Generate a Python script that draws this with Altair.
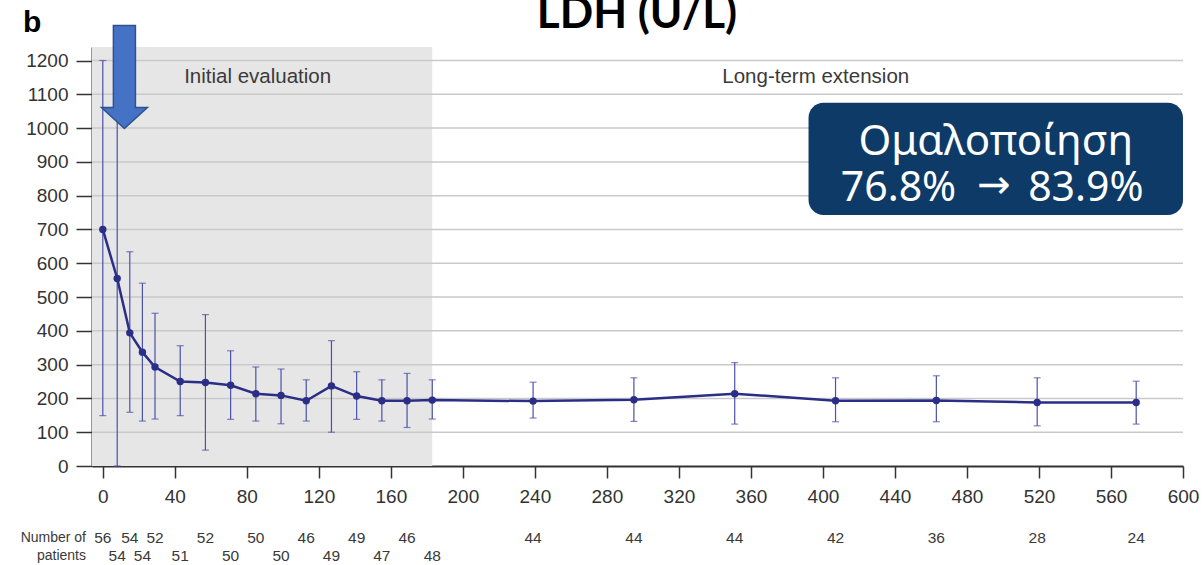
import altair as alt
import pandas as pd

# Visit days and LDH (U/L) summary values
days = [0, 8, 15, 22, 29, 43, 57, 71, 85, 99, 113, 127, 141, 155, 169, 183,
        239, 295, 351, 407, 463, 519, 574]
ldh_mean = [700, 555, 394, 337, 293, 250, 247, 239, 214, 209, 193, 237, 207,
            193, 193, 195, 192, 196, 214, 193, 194, 188, 188]
ldh_low = [149, 0, 159, 133, 139, 149, 47, 138, 133, 125, 133, 100, 138, 133,
           114, 139, 142, 132, 124, 131, 131, 119, 124]
ldh_high = [1200, 1100, 634, 541, 452, 356, 448, 341, 293, 287, 255, 371, 279,
            255, 274, 255, 248, 261, 306, 261, 267, 261, 251]

# Number of patients, printed in two staggered rows under the axis
n_top_days = [0, 15, 29, 57, 85, 113, 141, 169, 239, 295, 351, 407, 463, 519, 574]
n_top = [56, 54, 52, 52, 50, 46, 49, 46, 44, 44, 44, 42, 36, 28, 24]
n_bottom_days = [8, 22, 43, 71, 99, 127, 155, 183]
n_bottom = [54, 54, 51, 50, 50, 49, 47, 48]

x_ticks = list(range(0, 601, 40))
y_ticks = list(range(0, 1201, 100))
grid_values = list(range(100, 1201, 100))

X_DOMAIN = [-6, 600]
Y_DOMAIN = [0, 1240]
INITIAL_END = 183

NAVY = "#2B2E86"
BAR = "#4C51A8"
TEXT = "#333333"

df = pd.DataFrame({"day": days, "mean": ldh_mean, "low": ldh_low, "high": ldh_high})

xs = alt.Scale(domain=X_DOMAIN, nice=False, zero=False)
ys = alt.Scale(domain=Y_DOMAIN, nice=False)

x_axis = alt.Axis(values=x_ticks, format="d", title=None, grid=False, labelFontSize=19,
                  labelFont="Liberation Sans", labelColor=TEXT, tickSize=12,
                  tickWidth=1.5, tickColor=TEXT, domainColor=TEXT, domainWidth=2,
                  labelPadding=9, labelOverlap=False, labelFlush=False)
y_axis = alt.Axis(values=y_ticks, format="d", title=None, grid=False, labelFontSize=19,
                  labelFont="Liberation Sans", labelColor=TEXT, tickSize=16,
                  tickWidth=1.5, tickColor=TEXT, domainColor=TEXT, domainWidth=2,
                  labelPadding=8, labelOverlap=False, labelFlush=False)


def X(field):
    return alt.X(field, scale=xs, axis=x_axis)


def Y(field):
    return alt.Y(field, scale=ys, axis=y_axis)


# Shaded "initial evaluation" period
shade = alt.Chart(pd.DataFrame({"x0": [X_DOMAIN[0]], "x1": [INITIAL_END],
                                "y0": [Y_DOMAIN[0]], "y1": [Y_DOMAIN[1]]})).mark_rect(
    color="#E6E6E6").encode(x=X("x0:Q"), x2="x1:Q", y=Y("y0:Q"), y2="y1:Q")

grid = alt.Chart(pd.DataFrame({"g": grid_values})).mark_rule(
    color="#C9C9C9", strokeWidth=1.5).encode(y=Y("g:Q"))

# Phase labels
phases = pd.DataFrame({"day": [86, 396], "v": [1134, 1134],
                       "label": ["Initial evaluation", "Long-term extension"]})
phase_text = alt.Chart(phases).mark_text(
    font="Liberation Sans", fontSize=20.5, color="#3A3A3A", baseline="alphabetic").encode(
    x=X("day:Q"), y=Y("v:Q"), text="label:N")

# Error bars with caps
bars = alt.Chart(df).mark_rule(color=BAR, strokeWidth=1.2).encode(
    x=X("day:Q"), y=Y("low:Q"), y2="high:Q")
cap_low = alt.Chart(df).mark_tick(color=BAR, orient="horizontal", size=7, thickness=1.2).encode(
    x=X("day:Q"), y=Y("low:Q"))
cap_high = alt.Chart(df).mark_tick(color=BAR, orient="horizontal", size=7, thickness=1.2).encode(
    x=X("day:Q"), y=Y("high:Q"))

line = alt.Chart(df).mark_line(color=NAVY, strokeWidth=2.5).encode(
    x=X("day:Q"), y=Y("mean:Q"))
points = alt.Chart(df).mark_point(filled=True, color=NAVY, size=55, opacity=1).encode(
    x=X("day:Q"), y=Y("mean:Q"))

# Downward block arrow at the start of treatment
arrow_path = ("M-0.214,-1 L0.214,-1 L0.214,0.592 L0.447,0.592 L0,1 "
              "L-0.447,0.592 L-0.214,0.592 Z")
arrow = alt.Chart(pd.DataFrame({"day": [12], "v": [1151]})).mark_point(
    shape=arrow_path, size=10609, filled=True, fill="#4472C4", stroke="#2F528F",
    strokeWidth=1.5, opacity=1).encode(x=X("day:Q"), y=Y("v:Q"))

# Normalisation call-out box: heading, then "before → after" on one line
box = alt.Chart(pd.DataFrame({"x0": [392], "x1": [600], "y0": [743], "y1": [1075]})).mark_rect(
    color="#0D3A66", cornerRadius=15).encode(x=X("x0:Q"), x2="x1:Q", y=Y("y0:Q"), y2="y1:Q")
heading = alt.Chart(pd.DataFrame({"day": [496], "v": [920], "label": ["Ομαλοποίηση"]})).mark_text(
    font="Noto Sans", fontSize=42, color="white", baseline="alphabetic").encode(
    x=X("day:Q"), y=Y("v:Q"), text="label:N")
before = alt.Chart(pd.DataFrame({"day": [474], "v": [784], "label": ["76.8%"]})).mark_text(
    font="Noto Sans", fontSize=41, color="white", baseline="alphabetic", align="right").encode(
    x=X("day:Q"), y=Y("v:Q"), text="label:N")
arrow_sym = alt.Chart(pd.DataFrame({"day": [495], "v": [792], "label": ["→"]})).mark_text(
    font="DejaVu Sans", fontSize=40, color="white", baseline="alphabetic").encode(
    x=X("day:Q"), y=Y("v:Q"), text="label:N")
after = alt.Chart(pd.DataFrame({"day": [514], "v": [784], "label": ["83.9%"]})).mark_text(
    font="Noto Sans", fontSize=41, color="white", baseline="alphabetic", align="left").encode(
    x=X("day:Q"), y=Y("v:Q"), text="label:N")

# Patient counts below the axis
top_df = pd.DataFrame({"day": n_top_days, "n": n_top})
bottom_df = pd.DataFrame({"day": n_bottom_days, "n": n_bottom})
top_text = alt.Chart(top_df).mark_text(
    font="Liberation Sans", fontSize=15.5, color="#3A3A3A", baseline="middle").encode(
    x=X("day:Q"), y=alt.value(491), text="n:Q")
bottom_text = alt.Chart(bottom_df).mark_text(
    font="Liberation Sans", fontSize=15.5, color="#3A3A3A", baseline="middle").encode(
    x=X("day:Q"), y=alt.value(509), text="n:Q")
row_labels = alt.Chart(pd.DataFrame({"label": ["Number of", "patients"],
                                     "py": [491, 509]})).mark_text(
    font="Liberation Sans", fontSize=14, color="#3A3A3A", align="right",
    baseline="middle").encode(
    x=alt.value(-6), y=alt.Y("py:Q", scale=None), text="label:N")

# Title and panel letter
title = alt.Chart(pd.DataFrame({"t": ["LDH (U/L)"]})).mark_text(
    font="Lato", fontWeight="bold", fontSize=44, color="black", baseline="alphabetic").encode(
    x=alt.value(545), y=alt.value(-19), text="t:N")
panel = alt.Chart(pd.DataFrame({"t": ["b"]})).mark_text(
    font="Liberation Sans", fontWeight="bold", fontSize=30, color="black",
    align="left", baseline="alphabetic").encode(
    x=alt.value(-69), y=alt.value(-15), text="t:N")

chart = alt.layer(
    shade, grid, phase_text, bars, cap_low, cap_high, line, points, arrow,
    box, heading, before, arrow_sym, after, top_text, bottom_text, row_labels,
    title, panel
).properties(
    width=1091, height=419,
    autosize=alt.AutoSizeParams(type="none"),
    padding={"left": 92, "top": 47, "right": 20, "bottom": 99},
    background="white",
).configure_view(strokeWidth=0)

chart.save("out.html", embed_options={"renderer": "svg", "actions": False})
